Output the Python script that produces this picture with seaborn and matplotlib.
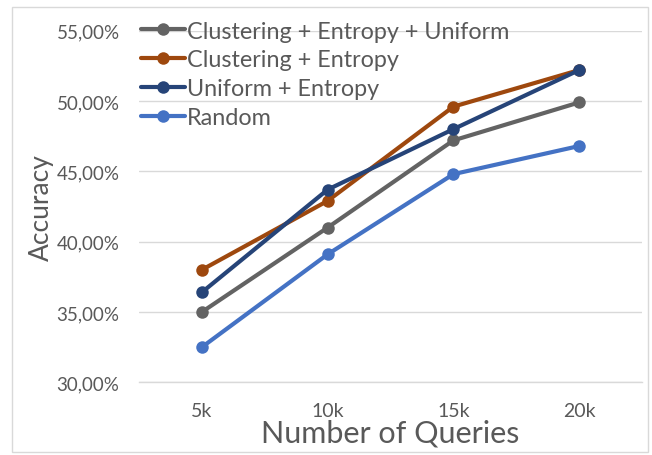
import pandas as pd
import matplotlib.pyplot as plt
import matplotlib.ticker as mticker
from matplotlib.patches import Rectangle
import seaborn as sns

# data
queries = ["5k", "10k", "15k", "20k"]
clust_ent_uni = [35.0, 41.0, 47.2, 49.9]
clust_ent = [38.0, 42.9, 49.6, 52.2]
uni_ent = [36.4, 43.7, 48.0, 52.2]
random_q = [32.5, 39.1, 44.8, 46.8]

series_names = ["Clustering + Entropy + Uniform", "Clustering + Entropy",
                "Uniform + Entropy", "Random"]
series_values = [clust_ent_uni, clust_ent, uni_ent, random_q]
colors = ["#636363", "#9E480E", "#264478", "#4472C4"]

rows = []
for name, vals in zip(series_names, series_values):
    for q, v in zip(queries, vals):
        rows.append({"Queries": q, "Accuracy": v / 100, "Method": name})
df = pd.DataFrame(rows)

sns.set_theme(style="white")
plt.rcParams['font.family'] = ['Lato', 'DejaVu Sans']
text_color = "#595959"
grid_color = "#D9D9D9"

fig = plt.figure(figsize=(6.52, 4.56), dpi=100)
ax = fig.add_axes([0.2132, 0.1594, 0.7715, 0.7711])

sns.lineplot(data=df, x="Queries", y="Accuracy", hue="Method",
             hue_order=series_names, palette=colors, marker="o",
             markersize=9, markeredgewidth=0, linewidth=3, sort=False, ax=ax)

ax.set_xlim(-0.5, 3.5)
ax.set_ylim(0.30, 0.55)
ax.yaxis.set_major_locator(mticker.MultipleLocator(0.05))
ax.yaxis.set_major_formatter(mticker.FuncFormatter(
    lambda v, p: f"{v * 100:.2f}%".replace(".", ",")))
ax.grid(axis="y", color=grid_color, linewidth=1)
ax.set_axisbelow(True)

for s in ["left", "right", "top"]:
    ax.spines[s].set_visible(False)
ax.spines["bottom"].set_color(grid_color)
ax.spines["bottom"].set_linewidth(1)

ax.set_xticks(range(len(queries)))
ax.set_xticklabels(queries)
ax.set_xticks([-0.5, 0.5, 1.5, 2.5, 3.5], minor=True)
ax.tick_params(axis="x", which="major", length=0, pad=14, labelsize=14, colors=text_color)
ax.tick_params(axis="x", which="minor", length=6, color=grid_color, width=1)
ax.tick_params(axis="y", length=0, pad=14, labelsize=13.5, colors=text_color)

ax.set_xlabel("Number of Queries", fontsize=22, color=text_color, labelpad=0)
ax.set_ylabel("Accuracy", fontsize=19, color=text_color, labelpad=2)

leg = ax.legend(loc="upper left", bbox_to_anchor=(-0.02, 1.062), frameon=False,
                fontsize=16.8, handlelength=1.9, handletextpad=0.1,
                labelspacing=0.34, borderpad=0)
for t in leg.get_texts():
    t.set_color(text_color)
for h in leg.get_lines():
    h.set_linewidth(3)

fig.patches.append(Rectangle((12 / 652, 1 - 453 / 456), 636 / 652, 445 / 456,
                             transform=fig.transFigure, fill=False,
                             edgecolor=grid_color, linewidth=1))

fig.savefig("out.png", dpi=100)
